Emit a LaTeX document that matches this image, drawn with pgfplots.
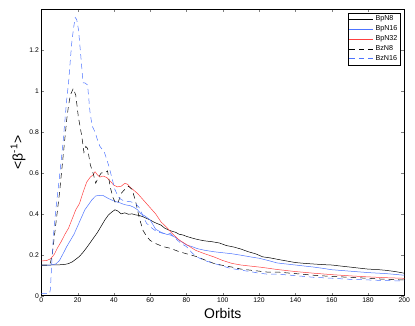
\documentclass[border=0pt]{standalone}
\usepackage{pgfplots}
\pgfplotsset{compat=1.18}
\usepackage{fontspec}
\setmainfont{Liberation Sans}
\definecolor{mblue}{rgb}{0.30,0.45,1.0}
\definecolor{mred}{rgb}{1.0,0.25,0.25}
\begin{document}
\begin{tikzpicture}
\useasboundingbox (-41.3bp,-30.3bp) rectangle (373.7bp,295.7bp);
\begin{axis}[
  at={(0,0)}, anchor=south west,
  scale only axis, width=363bp, height=286.4bp,
  xmin=0, xmax=200, ymin=0, ymax=1.4,
  xtick={0,20,...,200}, ytick={0,0.2,...,1.2},
  tick align=inside, major tick length=3bp,
  xtick pos=both, ytick pos=both,
  /pgf/number format/assume math mode=true,
  tick label style={font=\fontsize{6.8}{7}\selectfont},
  xticklabel style={yshift=1bp},
  yticklabel style={xshift=1bp},
  xlabel={Orbits}, ylabel={<β\textsuperscript{-1}>},
  xlabel style={font=\fontsize{14}{14}\selectfont, yshift=1bp},
  ylabel style={font=\fontsize{14}{14}\selectfont, yshift=-3bp},
  axis line style={line width=0.6pt},
  every axis plot/.append style={line width=0.5pt},
  legend style={at={(1,1)}, xshift=-3.6bp, yshift=-3.4bp, anchor=north east,
    font=\fontsize{7.2}{8}\selectfont, draw=black, line width=0.5pt,
    inner sep=1bp, row sep=-0.6bp, legend cell align=left},
  legend image code/.code={\draw[#1] (0bp,0bp) -- (24bp,0bp);},
]
\addplot[black] coordinates {(0,0.150)(5,0.150)(10,0.151)(13,0.153)(15,0.157)(17,0.165)(19,0.178)(21,0.192)(23,0.212)(25,0.235)(27,0.26)(29,0.285)(31,0.31)(33,0.34)(35,0.37)(37,0.395)(39,0.41)(40.6,0.42)(42,0.415)(44,0.40)(46,0.405)(48,0.398)(50,0.40)(52,0.395)(54,0.392)(56,0.386)(58,0.378)(60,0.37)(62,0.36)(64,0.352)(66,0.345)(68,0.33)(70,0.322)(72,0.315)(74,0.31)(76,0.30)(78,0.297)(80,0.29)(83,0.282)(86,0.275)(90,0.268)(94,0.264)(98,0.258)(102,0.245)(106,0.238)(110,0.228)(114,0.215)(118,0.205)(122,0.19)(126,0.185)(130,0.178)(135,0.17)(140,0.162)(145,0.158)(150,0.155)(155,0.152)(160,0.15)(165,0.145)(170,0.14)(175,0.135)(180,0.13)(185,0.128)(190,0.124)(195,0.118)(200,0.11)};
\addlegendentry{BpN8}
\addplot[mblue] coordinates {(0,0.150)(5,0.150)(8,0.155)(10,0.172)(12,0.205)(14,0.24)(16,0.27)(18,0.30)(20,0.34)(22,0.38)(24,0.42)(26,0.445)(28,0.47)(30,0.488)(32,0.49)(34,0.49)(35,0.485)(37,0.475)(39,0.467)(41,0.46)(43,0.455)(45,0.448)(47,0.443)(49,0.44)(51,0.432)(53,0.42)(55,0.40)(57,0.39)(60,0.37)(63,0.325)(66,0.31)(69,0.30)(71,0.297)(74,0.285)(77,0.265)(80,0.248)(83,0.24)(86,0.23)(90,0.222)(95,0.215)(100,0.21)(105,0.205)(110,0.198)(115,0.19)(120,0.183)(125,0.172)(130,0.16)(135,0.155)(140,0.15)(145,0.145)(150,0.14)(155,0.134)(160,0.127)(170,0.12)(180,0.113)(190,0.108)(200,0.10)};
\addlegendentry{BpN16}
\addplot[mred] coordinates {(0,0.17)(3,0.172)(5,0.18)(7,0.2)(9,0.235)(11,0.265)(13,0.3)(15,0.33)(17,0.375)(19,0.42)(21,0.45)(23,0.505)(25,0.555)(27,0.58)(28.5,0.59)(29.6,0.606)(31,0.59)(32.3,0.58)(34,0.585)(36,0.578)(38,0.56)(40,0.54)(42,0.532)(44,0.535)(46,0.549)(47.5,0.545)(49,0.53)(51,0.515)(53,0.50)(55,0.48)(57,0.46)(60,0.43)(63,0.40)(66,0.36)(69,0.335)(72,0.305)(76,0.272)(80,0.25)(85,0.222)(90,0.205)(95,0.19)(100,0.172)(105,0.158)(110,0.15)(115,0.145)(122,0.138)(130,0.128)(140,0.118)(150,0.11)(160,0.103)(170,0.097)(180,0.092)(190,0.088)(200,0.085)};
\addlegendentry{BpN32}
\addplot[black, dash pattern=on 5.5bp off 4bp] coordinates {(0,0.15)(4,0.15)(5,0.16)(6,0.2)(8,0.35)(10,0.5)(12,0.68)(14,0.86)(15,0.93)(16,0.98)(17.6,1.013)(19,0.98)(20.4,0.875)(22.3,0.78)(23.5,0.70)(24.5,0.73)(25.5,0.72)(27,0.64)(28.5,0.6)(30,0.55)(31,0.57)(33,0.6)(35,0.6)(36.5,0.61)(38,0.53)(39.5,0.48)(41,0.45)(42.5,0.46)(44,0.5)(46,0.52)(48,0.535)(50,0.52)(52,0.46)(54,0.38)(56,0.32)(58,0.29)(60,0.27)(63,0.255)(67,0.24)(71,0.232)(76,0.215)(80,0.205)(86,0.19)(90,0.175)(95,0.158)(100,0.148)(105,0.14)(110,0.13)(115,0.125)(120,0.12)(125,0.115)(131,0.115)(140,0.108)(150,0.1)(160,0.094)(170,0.09)(180,0.085)(190,0.08)(200,0.077)};
\addlegendentry{BzN8}
\addplot[mblue, dash pattern=on 5.5bp off 4bp] coordinates {(0,0.01)(4.5,0.01)(5,0.03)(6,0.2)(7,0.33)(8,0.42)(10,0.58)(12,0.75)(14,0.96)(15,1.04)(16.7,1.23)(17.8,1.31)(18.7,1.36)(19.5,1.35)(20.5,1.30)(21.5,1.2)(23,1.04)(24,1.04)(25.5,1.03)(26.8,0.9)(28,0.83)(29.6,0.8)(31,0.76)(32.3,0.73)(34.8,0.70)(37,0.64)(38.8,0.58)(40.5,0.52)(42.4,0.484)(44,0.47)(46,0.462)(49,0.46)(52,0.45)(54,0.43)(56,0.39)(58,0.354)(61,0.33)(63.6,0.313)(67,0.305)(70.9,0.305)(74,0.28)(77,0.255)(80,0.24)(83,0.21)(85.6,0.19)(90,0.172)(95,0.158)(100,0.145)(104,0.134)(110,0.125)(115,0.118)(120,0.11)(125,0.105)(131,0.105)(140,0.098)(150,0.09)(161,0.085)(170,0.08)(180,0.077)(190,0.074)(200,0.072)};
\addlegendentry{BzN16}
\end{axis}
\end{tikzpicture}
\end{document}
